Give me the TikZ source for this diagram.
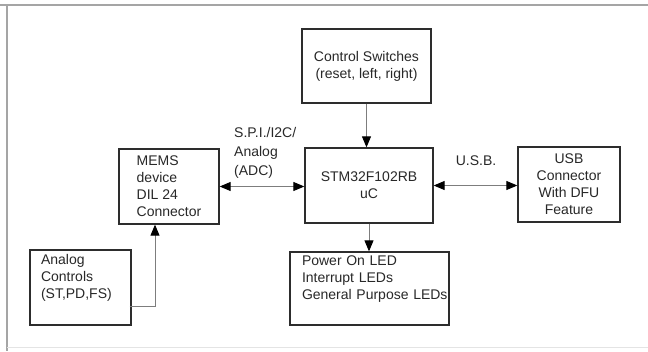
\documentclass[tikz,border=0pt]{standalone}
\usepackage{fontspec}
\setmainfont{Liberation Sans}
\usepackage{tikz}
\usepackage{xcolor}
\usetikzlibrary{arrows.meta, positioning, calc}
\definecolor{boxcol}{RGB}{45,45,45}
\definecolor{linkcol}{RGB}{125,125,125}
\definecolor{framecol}{RGB}{165,165,165}
\definecolor{txtcol}{RGB}{40,40,40}
\tikzset{
  blockbox/.style={rectangle,draw=boxcol,line width=1.3pt,fill=white,inner sep=2pt,font=\fontsize{14}{17}\selectfont,text=txtcol},
  linkarrow/.style={-{Triangle[length=11pt,width=9pt,black]},line width=0.9pt,linkcol},
  dualarrow/.style={{Triangle[length=11pt,width=9pt,black]}-{Triangle[length=11pt,width=9pt,black]},line width=0.9pt,linkcol},
  linklabel/.style={font=\fontsize{14}{19}\selectfont,text=txtcol,align=left,inner sep=0pt},
}

\begin{document}
\begin{tikzpicture}[x=1pt,y=-1pt]
  \useasboundingbox (0,0) rectangle (648,351);
  % page frame
  \draw[framecol,line width=2pt] (0,5)--(648,5);
  \draw[framecol,line width=2pt] (7,5)--(7,351);
  \draw[framecol!30,line width=1pt] (7,347)--(648,347);
  % blocks
  \node[blockbox,minimum width=129pt,minimum height=74pt,align=center] (SW) at (366.5,66) {Control Switches\\(reset, left, right)};
  \node[blockbox,minimum width=128pt,minimum height=75pt,align=center] (MCU) at (369,185.5) {STM32F102RB\\uC};
  \node[blockbox,minimum width=100pt,minimum height=75pt,align=left] (MEMS) at (169,186.5) {MEMS\\device\\DIL 24\\Connector};
  \node[blockbox,minimum width=102pt,minimum height=75pt,align=center] (USB) at (569,184.5) {USB\\Connector\\With DFU\\Feature};
  \node[blockbox,minimum height=75pt,text width=79pt,inner xsep=11pt,align=left] (ANA) at (80.5,287.5) {Analog\\Controls\\(ST,PD,FS)\\\strut};
  \node[blockbox,minimum height=73pt,text width=135pt,inner xsep=12pt,align=left] (LED) at (369.5,288.5) {Power On LED\\Interrupt LEDs\\\mbox{General Purpose LEDs}\\\strut};
  % connectors
  \draw[linkarrow] (SW.south)--(SW.south |- MCU.north);
  \draw[linkarrow] (MCU.south)--(MCU.south |- LED.north);
  \draw[dualarrow] (MEMS.east)--(MEMS.east -| MCU.west);
  \draw[dualarrow] (MCU.east)--(MCU.east -| USB.west);
  \coordinate (anaout) at ($(ANA.east)+(-2,18.5)$);
  \coordinate (memsin) at ($(MEMS.south)+(-14,0)$);
  \draw[linkarrow] (anaout) -| (memsin);
  % bus labels
  \node[linklabel,anchor=north west] (BUSLBL) at (234,127) {S.P.I./I2C/\\Analog\\(ADC)};
  \node[linklabel] (USBLBL) at (476,161) {U.S.B.};
\end{tikzpicture}
\end{document}
